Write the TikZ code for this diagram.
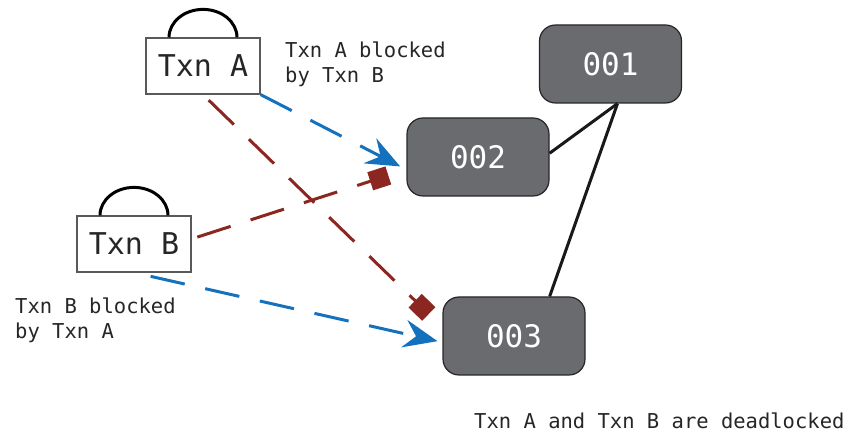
\documentclass[tikz,border=0pt]{standalone}
\usepackage{fontspec}
\setmonofont{DejaVu Sans Mono}
\usetikzlibrary{arrows.meta}
\definecolor{rowgray}{HTML}{6A6B6F}
\definecolor{waitblue}{HTML}{1371BE}
\definecolor{lockred}{HTML}{8C2620}
\begin{document}
\begin{tikzpicture}[x=1pt,y=1pt,
        txn/.style={draw=black!65,line width=1.2pt,fill=white,minimum width=114pt,minimum height=56pt,inner sep=0pt,text=black!85,font=\ttfamily\fontsize{30}{30}\selectfont},
        row/.style={draw=black!85,line width=1.2pt,fill=rowgray,rounded corners=16pt,minimum width=142pt,minimum height=78pt,inner sep=0pt,text=white,font=\ttfamily\fontsize{31}{31}\selectfont},
        note/.style={inner sep=0pt,align=left,anchor=west,text=black!85,font=\ttfamily\fontsize{20.5}{25}\selectfont},
        handle/.style={line width=3pt,black},
        link/.style={line width=3pt,black!90},
        wait/.style={waitblue,line width=3pt,dash pattern=on 35pt off 21pt,-{Stealth[length=34pt,width=28pt,inset=12pt]}},
        hold/.style={lockred,line width=3pt,dash pattern=on 35pt off 21pt,-{Square[length=19pt,width=19pt]}}]
    \useasboundingbox (0,0) rectangle (854,433);
    \node[txn] (txnA) at (203,367) {Txn A};
    \node[txn] (txnB) at (134,189) {Txn B};
    \node[row] (r001) at (610.5,369) {001};
    \node[row] (r002) at (478,276) {002};
    \node[row] (r003) at (514,97) {003};
    \node[note] (noteA) at (285,369) {Txn A blocked\\by Txn B};
    \node[note] (noteB) at (15,112.5) {Txn B blocked\\by Txn A};
    \node[note] (deadlock) at (474,12) {Txn A and Txn B are deadlocked};
    \draw[handle] ([xshift=-34pt]txnA.north) arc[start angle=180,end angle=0,x radius=34pt,y radius=28pt];
    \draw[handle] ([xshift=-34pt]txnB.north) arc[start angle=180,end angle=0,x radius=34pt,y radius=28pt];
    \draw[link] (r001.-80) -- (r002.3);
    \draw[link] (r001.-80) -- (r003.48);
    \draw[wait,shorten >=7pt] (txnA.south east) -- (r002.190);
    \draw[wait,shorten <=17pt,shorten >=5pt] (txnB.south) -- (r003.185);
    \draw[hold,shorten <=8pt,shorten >=19pt] (txnA.south) -- (r003.173);
    \draw[hold,shorten <=6pt,shorten >=19pt] (txnB.5) -- (r002.190);
\end{tikzpicture}
\end{document}
